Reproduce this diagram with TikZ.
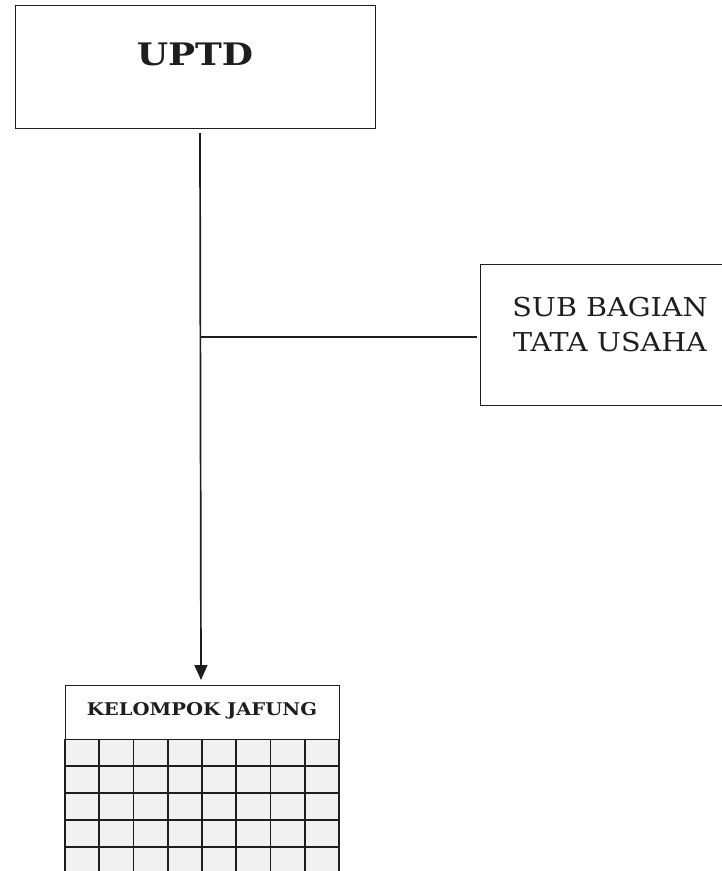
\documentclass[tikz,border=0pt]{standalone}
\usepackage{fontspec}
\setmainfont{DejaVu Serif}
\usetikzlibrary{arrows.meta}
\definecolor{ink}{HTML}{1E1E1E}
\definecolor{cellgray}{HTML}{F1F1F1}
\tikzset{
  boxline/.style={draw=ink, line width=1.4pt},
  conn/.style={draw=ink, line width=1.7pt},
  gridline/.style={draw=ink, line width=1.6pt},
  lbl/.style={inner sep=0pt, text=ink, align=center}
}
\begin{document}
\begin{tikzpicture}[x=1pt,y=-1pt]
\useasboundingbox (0,0) rectangle (721,871);
\fill[white] (0,0) rectangle (721,871);
% UPTD box
\node[boxline, rectangle, minimum width=360pt, minimum height=123pt, anchor=north west] (uptd) at (15,5) {};
\node[lbl, font=\fontsize{31}{36}\selectfont\bfseries\addfontfeature{FakeStretch=1.16}] (uptdtxt) at (195,54) {UPTD};
% SUB BAGIAN box
\node[boxline, rectangle, minimum width=260pt, minimum height=141pt, anchor=north west] (sub) at (480,264) {};
\node[lbl, font=\fontsize{26}{35}\selectfont\addfontfeature{FakeStretch=1.1}] (subtxt) at (610,325) {SUB BAGIAN\\TATA USAHA};
% KELOMPOK JAFUNG
\fill[cellgray] (65,739) rectangle (339,875);
\node[boxline, rectangle, minimum width=274pt, minimum height=54pt, anchor=north west] (kel) at (65,685) {};
\node[lbl, font=\fontsize{17.5}{20}\selectfont\bfseries\addfontfeature{FakeStretch=1.12}] (keltxt) at (202,711) {KELOMPOK JAFUNG};
\foreach \i in {0,...,8} {
  \draw[gridline] ({65+34.25*\i},739) -- ({65+34.25*\i},875);
}
\foreach \y in {766,793,820,847} {
  \draw[gridline] (65,\y) -- (339,\y);
}
% connectors
\coordinate (top) at (200,133);
\coordinate (junc) at (200,337);
\coordinate (arrowend) at (201,685);
\draw[conn, -{Triangle[length=15pt,width=13pt]}, shorten >=5pt] (top) -- (arrowend);
\draw[conn, shorten >=3pt] (junc) -- (sub.west |- junc);
\end{tikzpicture}
\end{document}
